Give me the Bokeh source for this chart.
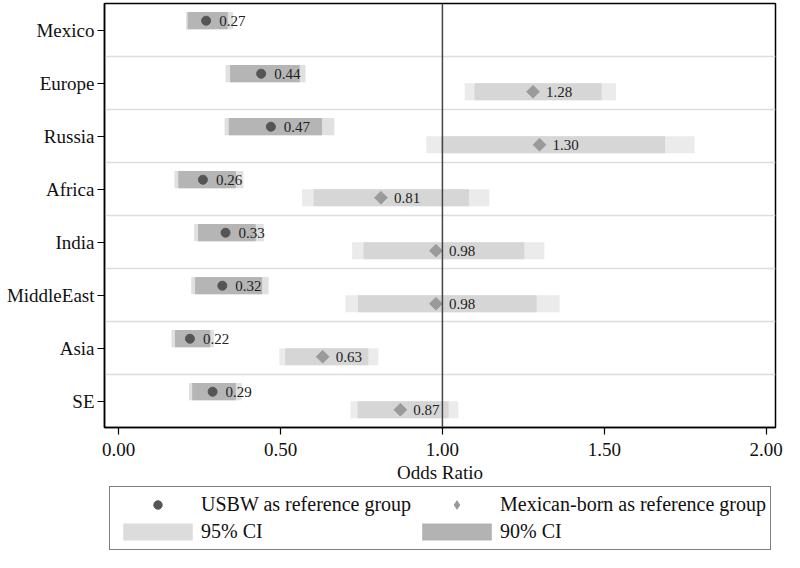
import math
from bokeh.plotting import figure
from bokeh.layouts import column
from bokeh.models import (FactorRange, Range1d, FixedTicker, Span, Legend, LegendItem,
                          ColumnDataSource, NumeralTickFormatter)
from bokeh.transform import dodge
from bokeh.core.properties import value
from bokeh.embed import file_html
from bokeh.resources import INLINE

# ---- data ----
regions = ["Mexico", "Europe", "Russia", "Africa", "India", "MiddleEast", "Asia", "SE"]
usbw_or   = [0.27, 0.44, 0.47, 0.26, 0.33, 0.32, 0.22, 0.29]
usbw_lo95 = [0.208, 0.330, 0.327, 0.172, 0.233, 0.224, 0.163, 0.217]
usbw_hi95 = [0.353, 0.577, 0.666, 0.385, 0.448, 0.463, 0.294, 0.380]
usbw_lo90 = [0.213, 0.344, 0.340, 0.184, 0.245, 0.236, 0.174, 0.227]
usbw_hi90 = [0.337, 0.559, 0.628, 0.362, 0.423, 0.443, 0.283, 0.362]

mex_regions = ["Europe", "Russia", "Africa", "India", "MiddleEast", "Asia", "SE"]
mex_or   = [1.28, 1.30, 0.81, 0.98, 0.98, 0.63, 0.87]
mex_lo95 = [1.069, 0.950, 0.566, 0.721, 0.700, 0.496, 0.716]
mex_hi95 = [1.536, 1.779, 1.145, 1.315, 1.362, 0.802, 1.049]
mex_lo90 = [1.099, 0.996, 0.602, 0.756, 0.739, 0.514, 0.738]
mex_hi90 = [1.492, 1.688, 1.082, 1.253, 1.291, 0.771, 1.019]

x_ticks = [0, 0.5, 1.0, 1.5, 2.0]
boundaries = [1, 2, 3, 4, 5, 6, 7]
ref_line = 1.0

FONT = "Liberation Serif"
C95_U, C90_U = "#e0e0e0", "#b5b5b5"
C95_M, C90_M = "#ebebeb", "#d6d6d6"
C_DOT, C_DIA = "#555555", "#9a9a9a"

usbw = ColumnDataSource(dict(region=regions, orv=usbw_or, lo95=usbw_lo95, hi95=usbw_hi95,
                             lo90=usbw_lo90, hi90=usbw_hi90,
                             lbl=["%.2f" % v for v in usbw_or]))
mex = ColumnDataSource(dict(region=mex_regions, orv=mex_or, lo95=mex_lo95, hi95=mex_hi95,
                            lo90=mex_lo90, hi90=mex_hi90,
                            lbl=["%.2f" % v for v in mex_or]))

LEFT = 104
RIGHT = 9

p = figure(y_range=FactorRange(factors=list(reversed(regions))),
           x_range=Range1d(-0.044, 2.029),
           width=784, height=486,
           min_border_left=LEFT, min_border_right=RIGHT, min_border_top=3, min_border_bottom=59,
           output_backend="svg", toolbar_location=None)

UP = 0.175
DN = -0.165
H = 0.325

yu = dodge("region", UP, range=p.y_range)
yd = dodge("region", DN, range=p.y_range)

p.hbar(y=yu, left="lo95", right="hi95", height=H, source=usbw, fill_color=C95_U, line_color=None)
p.hbar(y=yu, left="lo90", right="hi90", height=H, source=usbw, fill_color=C90_U, line_color=None)
p.hbar(y=yd, left="lo95", right="hi95", height=H, source=mex, fill_color=C95_M, line_color=None)
p.hbar(y=yd, left="lo90", right="hi90", height=H, source=mex, fill_color=C90_M, line_color=None)

p.add_layout(Span(location=ref_line, dimension="height", line_color="#444444", line_width=1.5))

p.scatter(x="orv", y=yu, source=usbw, marker="circle", size=9,
          fill_color=C_DOT, line_color=C_DOT)
p.scatter(x="orv", y=yd, source=mex, marker="square", angle=math.pi / 4, size=9,
          fill_color=C_DIA, line_color=C_DIA)

p.text(x="orv", y=yu, text="lbl", source=usbw, x_offset=13, text_baseline="middle",
       text_font=value(FONT), text_font_size="15px", text_color="#222222")
p.text(x="orv", y=yd, text="lbl", source=mex, x_offset=13, text_baseline="middle",
       text_font=value(FONT), text_font_size="15px", text_color="#222222")

# grid lines between categories
p.xgrid.grid_line_color = None
p.ygrid.ticker = FixedTicker(ticks=boundaries)
p.ygrid.grid_line_color = "#dddddd"
p.ygrid.grid_line_width = 1.5

p.outline_line_color = "black"
p.outline_line_width = 1.5

p.xaxis.ticker = FixedTicker(ticks=x_ticks)
p.xaxis.formatter = NumeralTickFormatter(format="0.00")
p.xaxis.axis_label = "Odds Ratio"
p.xaxis.axis_label_text_font = FONT
p.xaxis.axis_label_text_font_size = "19px"
p.xaxis.axis_label_text_font_style = "normal"
p.xaxis.axis_label_text_color = "#111111"
p.xaxis.axis_label_standoff = 3

for ax in (p.xaxis, p.yaxis):
    ax.major_label_text_font = FONT
    ax.major_label_text_font_size = "19px"
    ax.major_label_text_color = "#111111"
    ax.axis_line_color = "black"
    ax.axis_line_width = 1.5
    ax.major_tick_line_color = "black"
    ax.major_tick_line_width = 1.2
    ax.major_tick_in = 0
    ax.major_tick_out = 7
    ax.minor_tick_line_color = None
    ax.major_label_standoff = 3
p.xaxis.major_label_standoff = 8

# ---- legend strip: renderers lie outside its y range, so only legend glyphs show ----
lg = figure(width=784, height=66, x_range=Range1d(0, 1), y_range=Range1d(-3, -2),
            x_axis_location=None, y_axis_location=None,
            min_border_left=LEFT, min_border_right=RIGHT, min_border_top=0, min_border_bottom=0,
            output_backend="svg", toolbar_location=None)
lg.grid.visible = False
lg.outline_line_color = None

l_dot = lg.scatter(x="orv", y="orv", source=usbw, marker="circle",
                   fill_color=C_DOT, line_color=C_DOT)
l_dia = lg.scatter(x="orv", y="orv", source=mex, marker="diamond",
                   fill_color=C_DIA, line_color=C_DIA)
l95 = lg.hbar(y="orv", left="lo95", right="hi95", height=0.1, source=usbw,
              fill_color="#dcdcdc", line_color=None)
l90 = lg.hbar(y="orv", left="lo90", right="hi90", height=0.1, source=usbw,
              fill_color="#b3b3b3", line_color=None)

legend = Legend(items=[
    LegendItem(label="USBW as reference group", renderers=[l_dot]),
    LegendItem(label="Mexican-born as reference group", renderers=[l_dia]),
    LegendItem(label="95% CI", renderers=[l95]),
    LegendItem(label="90% CI", renderers=[l90]),
], orientation="horizontal", ncols=2)
legend.location = (5, 2)
legend.label_text_font = FONT
legend.label_text_font_size = "20px"
legend.label_text_color = "#111111"
legend.glyph_width = 87
legend.glyph_height = 21
legend.label_height = 27
legend.label_width = 212
legend.label_standoff = 0
legend.spacing = 0
legend.padding = 4
legend.margin = 0
legend.border_line_color = "black"
legend.border_line_width = 1.5
legend.background_fill_alpha = 1
lg.add_layout(legend)

layout = column(p, lg, spacing=0)
open("out.html", "w").write(file_html(layout, INLINE))
